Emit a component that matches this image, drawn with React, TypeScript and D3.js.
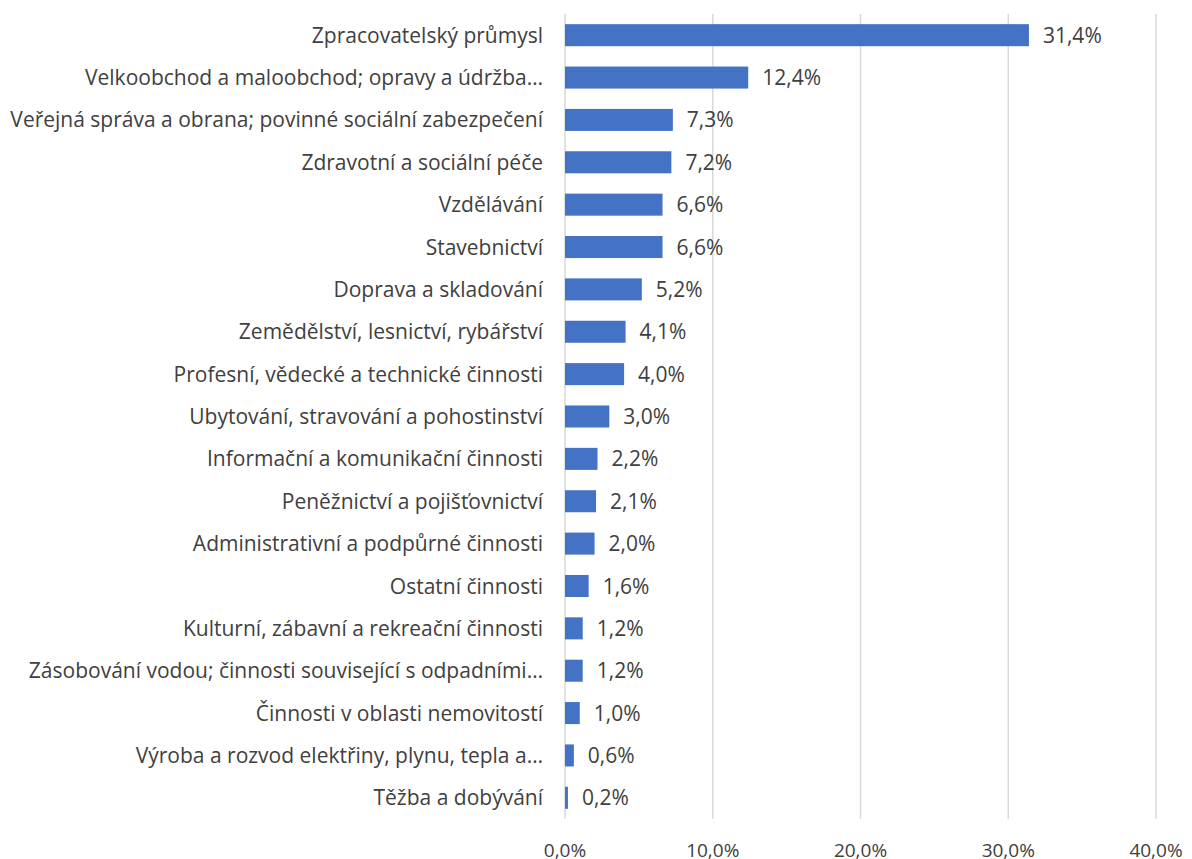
import React, { useEffect, useRef } from "react";
import * as d3 from "d3";

// categories top to bottom, shares in %
const categories = [
  "Zpracovatelský průmysl",
  "Velkoobchod a maloobchod; opravy a údržba…",
  "Veřejná správa a obrana; povinné sociální zabezpečení",
  "Zdravotní a sociální péče",
  "Vzdělávání",
  "Stavebnictví",
  "Doprava a skladování",
  "Zemědělství, lesnictví, rybářství",
  "Profesní, vědecké a technické činnosti",
  "Ubytování, stravování a pohostinství",
  "Informační a komunikační činnosti",
  "Peněžnictví a pojišťovnictví",
  "Administrativní a podpůrné činnosti",
  "Ostatní činnosti",
  "Kulturní, zábavní a rekreační činnosti",
  "Zásobování vodou; činnosti související s odpadními…",
  "Činnosti v oblasti nemovitostí",
  "Výroba a rozvod elektřiny, plynu, tepla a…",
  "Těžba a dobývání",
];
const values = [31.4, 12.4, 7.3, 7.2, 6.6, 6.6, 5.2, 4.1, 4.0, 3.0, 2.2, 2.1, 2.0, 1.6, 1.2, 1.2, 1.0, 0.6, 0.2];
const xTicks = [0, 10, 20, 30, 40];

const fmt = (v: number) => v.toFixed(1).replace(".", ",") + "%";

const App = () => {
  const svgRef = useRef<SVGSVGElement>(null);

  useEffect(() => {
    const svg = d3.select(svgRef.current);
    svg.selectAll("*").remove();

    const left = 565;
    const right = 1156;
    const top = 14;
    const bottom = 819;
    const font = "'Open Sans', 'Noto Sans', sans-serif";
    const textColor = "#404040";

    const x = d3.scaleLinear().domain([0, 40]).range([left, right]);
    const y = d3.scaleBand().domain(categories).range([top, bottom]).paddingInner(0.48).paddingOuter(0.24);

    // gridlines
    svg.append("g")
      .selectAll("line")
      .data(xTicks)
      .enter()
      .append("line")
      .attr("x1", (d) => x(d))
      .attr("x2", (d) => x(d))
      .attr("y1", top)
      .attr("y2", bottom)
      .attr("stroke", "#d9d9d9")
      .attr("stroke-width", 1.5);

    // tick labels (slightly cut at the bottom edge as in the original)
    svg.append("g")
      .selectAll("text")
      .data(xTicks)
      .enter()
      .append("text")
      .attr("x", (d) => x(d))
      .attr("y", 857)
      .attr("text-anchor", "middle")
      .style("font-family", font)
      .style("font-size", "19px")
      .attr("fill", textColor)
      .text((d) => fmt(d));

    const data = categories.map((c, i) => ({ c, v: values[i] }));

    // bars
    svg.append("g")
      .selectAll("rect")
      .data(data)
      .enter()
      .append("rect")
      .attr("x", x(0))
      .attr("y", (d) => y(d.c)!)
      .attr("width", (d) => x(d.v) - x(0))
      .attr("height", y.bandwidth())
      .attr("fill", "#4472c4");

    // value labels
    svg.append("g")
      .selectAll("text")
      .data(data)
      .enter()
      .append("text")
      .attr("x", (d) => x(d.v) + 14)
      .attr("y", (d) => y(d.c)! + y.bandwidth() / 2)
      .attr("dy", "0.36em")
      .style("font-family", font)
      .style("font-size", "21px")
      .attr("fill", textColor)
      .text((d) => fmt(d.v));

    // category labels
    svg.append("g")
      .selectAll("text")
      .data(data)
      .enter()
      .append("text")
      .attr("x", left - 22)
      .attr("y", (d) => y(d.c)! + y.bandwidth() / 2)
      .attr("dy", "0.36em")
      .attr("text-anchor", "end")
      .style("font-family", font)
      .style("font-size", "21px")
      .attr("fill", textColor)
      .text((d) => d.c);
  }, []);

  return (
    <svg
      ref={svgRef}
      width={1192}
      height={859}
      style={{ position: "absolute", left: 0, top: 0, background: "#fff" }}
    ></svg>
  );
};

export default App;
